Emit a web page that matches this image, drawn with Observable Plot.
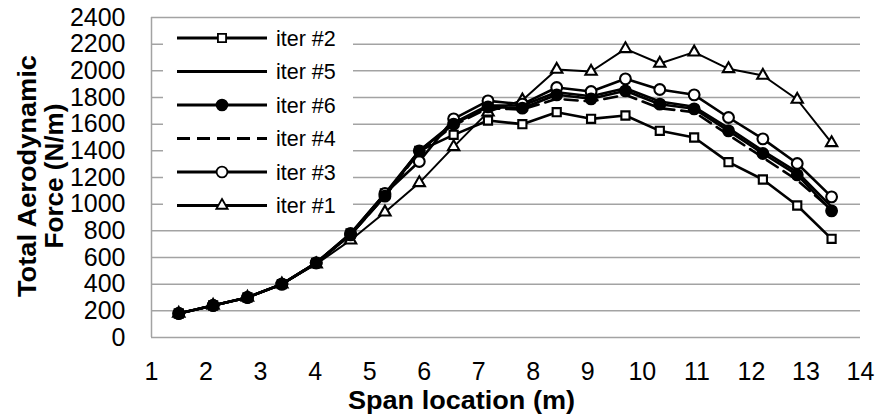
<!DOCTYPE html>
<html>
<head>
<meta charset="utf-8">
<script src="https://cdn.jsdelivr.net/npm/d3@7"></script>
<script src="https://cdn.jsdelivr.net/npm/@observablehq/plot@0.6"></script>
<style>
  html, body { margin: 0; padding: 0; background: #fff; }
  #chart svg { display: block; }
</style>
</head>
<body>
<div id="chart"></div>
<script>
// ---- data ----
const spanX = [1.50, 2.13, 2.76, 3.39, 4.02, 4.65, 5.28, 5.91, 6.54, 7.17, 7.80, 8.43, 9.06, 9.69, 10.32, 10.95, 11.58, 12.21, 12.84, 13.47];
const iter1 = [180, 240, 300, 400, 550, 730, 940, 1160, 1430, 1690, 1780, 2010, 1995, 2165, 2055, 2140, 2015, 1965, 1785, 1460];
const iter2 = [180, 240, 300, 400, 560, 780, 1080, 1400, 1520, 1627, 1600, 1690, 1640, 1665, 1550, 1500, 1315, 1185, 990, 740];
const iter3 = [180, 240, 300, 400, 560, 780, 1080, 1320, 1640, 1775, 1750, 1875, 1845, 1940, 1860, 1820, 1650, 1490, 1305, 1055];
const iter4 = [180, 240, 300, 400, 560, 770, 1060, 1390, 1590, 1720, 1710, 1790, 1770, 1820, 1720, 1690, 1520, 1350, 1180, 960];
const iter5 = [180, 240, 300, 400, 560, 770, 1070, 1400, 1610, 1740, 1740, 1840, 1810, 1870, 1770, 1730, 1570, 1400, 1240, 980];
const iter6 = [180, 240, 300, 400, 560, 770, 1060, 1400, 1600, 1730, 1720, 1820, 1790, 1850, 1750, 1715, 1550, 1380, 1220, 950];
const legendOrder = ["iter #2", "iter #5", "iter #6", "iter #4", "iter #3", "iter #1"];
const xTicks = [1, 2, 3, 4, 5, 6, 7, 8, 9, 10, 11, 12, 13, 14];
const yTicks = [0, 200, 400, 600, 800, 1000, 1200, 1400, 1600, 1800, 2000, 2200, 2400];
const xTitle = "Span location (m)";
const yTitle = ["Total Aerodynamic", "Force (N/m)"];

// ---- series table ----
const seriesValues = {
  "iter #1": iter1, "iter #2": iter2, "iter #3": iter3,
  "iter #4": iter4, "iter #5": iter5, "iter #6": iter6
};
const styles = {
  "iter #1": {symbol: "triangle", fill: "white", r: 4.2, width: 2, dash: null},
  "iter #2": {symbol: "square", fill: "white", r: 4.6, width: 2.6, dash: null},
  "iter #3": {symbol: "circle", fill: "white", r: 5.4, width: 2.6, dash: null},
  "iter #4": {symbol: null, fill: null, r: 0, width: 2.6, dash: "13,7"},
  "iter #5": {symbol: null, fill: null, r: 0, width: 2.6, dash: null},
  "iter #6": {symbol: "circle", fill: "black", r: 5.4, width: 2.6, dash: null}
};
const drawOrder = ["iter #1", "iter #2", "iter #3", "iter #4", "iter #5", "iter #6"];
const rowsFor = name => spanX.map((x, i) => ({x, y: seriesValues[name][i], series: name}));

const marks = [
  Plot.ruleY(yTicks, {stroke: "#a3a3a3", strokeWidth: 1.5}),
  Plot.ruleX([1], {y1: 0, y2: 2400, stroke: "#a3a3a3", strokeWidth: 1.5})
];
for (const name of drawOrder) {
  const st = styles[name];
  const rows = rowsFor(name);
  marks.push(Plot.line(rows, {x: "x", y: "y", stroke: "black", strokeWidth: st.width,
    strokeDasharray: st.dash || undefined}));
  if (st.symbol) {
    marks.push(Plot.dot(rows, {x: "x", y: "y", symbol: st.symbol, r: st.r,
      fill: st.fill, stroke: "black", strokeWidth: 2.1}));
  }
}

const W = 877, H = 414;
const mL = 151, mR = 17, mT = 17, mB = 77;

const svg = Plot.plot({
  width: W,
  height: H,
  marginLeft: mL,
  marginRight: mR,
  marginTop: mT,
  marginBottom: mB,
  style: {fontFamily: "'Liberation Sans', Arial, sans-serif", fontSize: "25px", color: "black", background: "white", overflow: "visible"},
  x: {domain: [1, 14], ticks: xTicks, tickSize: 0, tickPadding: 25, tickFormat: d3.format("d"), label: null},
  y: {domain: [0, 2400], ticks: yTicks, tickSize: 0, tickPadding: 26, tickFormat: d3.format("d"), label: null},
  marks
});
document.getElementById("chart").appendChild(svg);

// ---- axis titles ----
const sel = d3.select(svg);
sel.append("text")
  .attr("x", 348).attr("y", 409)
  .attr("text-anchor", "start")
  .attr("font-family", "'Liberation Sans', Arial, sans-serif")
  .attr("font-size", 26).attr("font-weight", "bold").attr("fill", "black")
  .attr("textLength", 227).attr("lengthAdjust", "spacingAndGlyphs")
  .text(xTitle);
const yLines = [{t: yTitle[0], bx: 36, len: 242}, {t: yTitle[1], bx: 63, len: 145}];
for (const l of yLines) {
  sel.append("text")
    .attr("transform", `translate(${l.bx},176) rotate(-90)`)
    .attr("text-anchor", "middle")
    .attr("font-family", "'Liberation Sans', Arial, sans-serif")
    .attr("font-size", 26).attr("font-weight", "bold").attr("fill", "black")
    .attr("textLength", l.len).attr("lengthAdjust", "spacingAndGlyphs")
    .text(l.t);
}

// ---- legend ----
const symMap = {circle: d3.symbolCircle, square: d3.symbolSquare, triangle: d3.symbolTriangle};
const lg = sel.append("g");
lg.append("rect").attr("x", 163).attr("y", 21).attr("width", 190).attr("height", 203).attr("fill", "white");
legendOrder.forEach((name, i) => {
  const st = styles[name];
  const cy = 38 + i * 33.5;
  lg.append("line").attr("x1", 177).attr("x2", 267).attr("y1", cy).attr("y2", cy)
    .attr("stroke", "black").attr("stroke-width", 3)
    .attr("stroke-dasharray", st.dash || null);
  if (st.symbol) {
    lg.append("path")
      .attr("transform", `translate(222,${cy})`)
      .attr("d", d3.symbol(symMap[st.symbol], st.r * st.r * Math.PI)())
      .attr("fill", st.fill).attr("stroke", "black").attr("stroke-width", 1.8);
  }
  lg.append("text").attr("x", 276).attr("y", cy + 7.5)
    .attr("text-anchor", "start")
    .attr("font-family", "'Liberation Sans', Arial, sans-serif")
    .attr("font-size", 21.5).attr("fill", "black")
    .text(name);
});
</script>
</body>
</html>
